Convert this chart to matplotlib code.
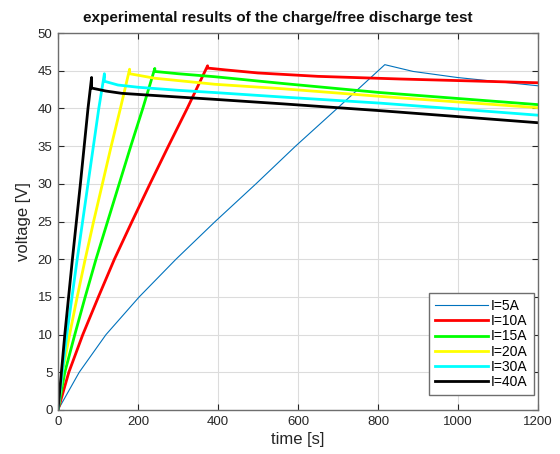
import matplotlib
matplotlib.use("Agg")
import matplotlib.pyplot as plt

plt.rcParams['font.family'] = ['Liberation Sans', 'DejaVu Sans']

# I = 5 A
t_5 = [0, 53, 120, 203, 295, 393, 495, 594, 698, 817, 888, 998, 1200]
v_5 = [0, 5, 10, 15, 20, 25, 30, 35, 40, 45.8, 44.9, 44.1, 43.0]
# I = 10 A
t_10 = [0, 27, 62, 101, 141, 185, 230, 276, 323, 374, 374, 420, 500, 650, 855, 1200]
v_10 = [0, 5, 10, 15, 20, 25, 30, 35, 40, 45.65, 45.35, 45.1, 44.7, 44.25, 43.9, 43.4]
# I = 15 A
t_15 = [0, 17, 42, 68, 95, 124, 153, 182, 212, 242, 242, 300, 392, 563, 805, 855, 1200]
v_15 = [0, 5, 10, 15, 20, 25, 30, 35, 40, 45.3, 44.9, 44.6, 44.2, 43.3, 42.1, 41.9, 40.5]
# I = 20 A
t_20 = [0, 11, 29, 48, 68, 89, 111, 133, 156, 179, 179, 242, 392, 563, 805, 855, 1200]
v_20 = [0, 5, 10, 15, 20, 25, 30, 35, 40, 45.2, 44.6, 44.0, 43.2, 42.6, 41.6, 41.4, 40.1]
# I = 30 A
t_30 = [0, 22, 48, 75, 102, 116, 116, 150, 201, 300, 392, 563, 805, 855, 1200]
v_30 = [0, 10, 20, 30, 40, 44.6, 43.6, 43.1, 42.8, 42.4, 42.1, 41.5, 40.7, 40.5, 39.1]
# I = 40 A
t_40 = [0, 17, 36, 56, 75, 84, 84, 120, 159, 230, 392, 563, 805, 855, 1200]
v_40 = [0, 10, 20, 30, 40, 44.1, 42.7, 42.3, 42.0, 41.75, 41.2, 40.6, 39.7, 39.5, 38.1]

labels = ['I=5A', 'I=10A', 'I=15A', 'I=20A', 'I=30A', 'I=40A']
x_ticks = [0, 200, 400, 600, 800, 1000, 1200]
y_ticks = [0, 5, 10, 15, 20, 25, 30, 35, 40, 45, 50]

fig = plt.figure(figsize=(5.6, 4.54), dpi=100)
ax = fig.add_axes([58/560, 44/454, 480/560, 377/454])

series = [(t_5, v_5, '#0072BD', 0.8), (t_10, v_10, '#ff0000', 2.0),
          (t_15, v_15, '#00ff00', 2.0), (t_20, v_20, '#ffff00', 2.0),
          (t_30, v_30, '#00ffff', 2.0), (t_40, v_40, '#000000', 2.0)]
for (t, v, c, lw), lab in zip(series, labels):
    ax.plot(t, v, color=c, lw=lw, label=lab)

ax.set_xlim(0, 1200)
ax.set_ylim(0, 50)
ax.set_xticks(x_ticks)
ax.set_yticks(y_ticks)
ax.grid(True, color='#dcdcdc', lw=0.8)
ax.set_axisbelow(True)
ax.tick_params(direction='in', top=True, right=True, labelsize=9.5,
               colors='#262626', length=4, width=0.8, pad=4)
for s in ax.spines.values():
    s.set_color('#6e6e6e')
    s.set_linewidth(1.0)

ax.set_xlabel('time [s]', fontsize=12, color='#262626', labelpad=3)
ax.set_ylabel('voltage [V]', fontsize=12, color='#262626', labelpad=5)
fig.text(278/560, 1 - 18/454, 'experimental results of the charge/free discharge test',
         fontsize=11, fontweight='bold', color='#111111', ha='center', va='center')

leg = ax.legend(loc='lower right', bbox_to_anchor=(534/560, 59/454),
                bbox_transform=fig.transFigure, fontsize=10, handlelength=3.8,
                fancybox=False, framealpha=1, edgecolor='#6e6e6e',
                borderaxespad=0, labelspacing=0.08, handletextpad=0.25,
                borderpad=0.45)
leg.get_frame().set_linewidth(1.0)

fig.savefig('out.png', dpi=100)
